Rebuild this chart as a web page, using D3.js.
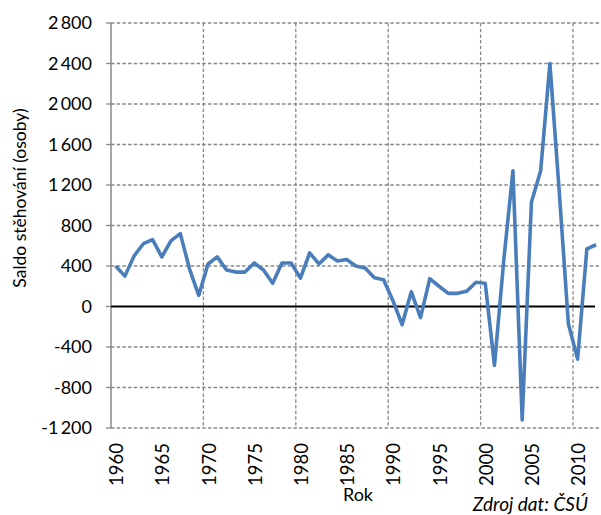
<!DOCTYPE html>
<html><head><meta charset="utf-8">
<script src="https://cdn.jsdelivr.net/npm/d3@7"></script>
<style>body{margin:0;background:#fff}svg{display:block}text{font-family:Lato,"Open Sans",sans-serif;fill:#000}</style>
</head><body><svg id="c" width="601" height="515"></svg>
<script>
const years = d3.range(1960, 2013);
const values = [400,300,500,620,660,490,650,720,370,110,
                420,490,360,340,340,430,360,230,430,430,
                280,530,420,510,450,465,400,380,285,265,
                60,-180,145,-110,275,200,130,130,150,240,
                230,-580,450,1340,-1120,1030,1340,2400,1150,-170,
                -520,570,610];
const yTicks = [-1200,-800,-400,0,400,800,1200,1600,2000,2400,2800];
const xLabelYears = [1960,1965,1970,1975,1980,1985,1990,1995,2000,2005,2010];
const xGridYears = [1970,1980,1990,2000,2010];
const yTitle = "Saldo stěhování (osoby)";
const xTitle = "Rok";
const source = "Zdroj dat: ČSÚ";

const svg = d3.select("#c");
const L = 111, R = 601, T = 23, B = 428;
const x = d3.scaleBand().domain(years).range([L, L + years.length*9.24]);
const y = d3.scaleLinear().domain([-1200, 2800]).range([B, T]);
const fmt = v => d3.format(",")(v).replace(/,/g, "\u2009").replace("\u2212", "-");

const g = svg.append("g");
// horizontal gridlines
g.selectAll(".hg").data(yTicks.filter(v=>v!==0)).join("line")
  .attr("x1", L).attr("x2", R).attr("y1", d=>y(d)).attr("y2", d=>y(d))
  .attr("stroke", "#888").attr("stroke-width", 1.3).attr("stroke-dasharray", "3.5,2.2");
// vertical gridlines
g.selectAll(".vg").data(xGridYears).join("line")
  .attr("x1", d=>x(d)).attr("x2", d=>x(d)).attr("y1", T).attr("y2", B)
  .attr("stroke", "#888").attr("stroke-width", 1.3).attr("stroke-dasharray", "3.5,2.2");
// y axis line and ticks
g.append("line").attr("x1", L).attr("x2", L).attr("y1", T).attr("y2", B)
  .attr("stroke", "#888").attr("stroke-width", 1.5);
g.selectAll(".yt").data(yTicks).join("line")
  .attr("x1", L-5).attr("x2", L).attr("y1", d=>y(d)).attr("y2", d=>y(d))
  .attr("stroke", "#888").attr("stroke-width", 1.3);
g.selectAll(".yl").data(yTicks).join("text")
  .attr("x", 92).attr("y", d=>y(d)).attr("dy", "0.35em").attr("text-anchor", "end")
  .attr("font-size", 18).text(fmt);
// zero axis
g.append("line").attr("x1", L).attr("x2", 595).attr("y1", y(0)).attr("y2", y(0))
  .attr("stroke", "#000").attr("stroke-width", 2);
// line
const line = d3.line().x((d,i)=>x(years[i]) + x.bandwidth()/2).y(d=>y(d));
g.append("path").datum(values).attr("d", line).attr("fill", "none")
  .attr("stroke", "#4a7ebb").attr("stroke-width", 3.6).attr("stroke-linejoin", "round");
// x labels
g.selectAll(".xl").data(xLabelYears).join("text")
  .attr("transform", d=>`translate(${x(d)+x.bandwidth()/2+1},443) rotate(-90)`)
  .attr("text-anchor", "end").attr("dy", "0.35em").attr("font-size", 18.5).text(d=>d);
// titles
svg.append("text").attr("x", 358).attr("y", 501).attr("text-anchor", "middle")
  .attr("font-size", 18).text(xTitle);
svg.append("text").attr("transform", "translate(20,198) rotate(-90)").attr("text-anchor", "middle")
  .attr("dy", "0.35em").attr("font-size", 17.5).text(yTitle);
svg.append("text").attr("x", 588).attr("y", 511).attr("text-anchor", "end")
  .attr("font-size", 19).attr("font-style", "italic").text(source);
</script></body></html>
